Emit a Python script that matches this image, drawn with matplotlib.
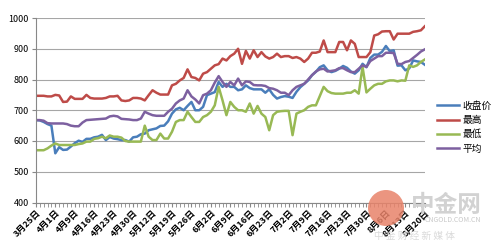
import matplotlib.pyplot as plt
from matplotlib.patches import Circle

plt.rcParams['font.family'] = ['Noto Sans CJK SC', 'DejaVu Sans']

# tick labels, one every 5 trading days
date_labels = ["3月25日", "4月1日", "4月9日", "4月16日", "4月23日", "4月30日", "5月12日",
               "5月19日", "5月26日", "6月2日", "6月9日", "6月16日", "6月23日", "7月2日",
               "7月9日", "7月16日", "7月23日", "7月30日", "8月6日", "8月13日", "8月20日"]

close = [668, 667, 662, 655, 650, 560, 580, 571, 572, 582, 593, 601, 597, 607, 607, 612, 614, 620, 603, 613,
         608, 606, 603, 603, 598, 612, 614, 622, 624, 635, 638, 641, 649, 650, 664, 689, 703, 708, 700, 714,
         727, 700, 700, 711, 749, 754, 759, 792, 776, 786, 776, 776, 765, 768, 781, 772, 768, 768, 768, 757,
         768, 750, 738, 743, 746, 744, 740, 760, 775, 786, 797, 814, 825, 840, 846, 830, 824, 828, 835, 844,
         838, 826, 819, 830, 851, 840, 870, 881, 881, 890, 909, 892, 895, 845, 846, 830, 836, 862, 859, 857,
         848]
high = [747, 747, 747, 745, 745, 750, 748, 727, 728, 745, 737, 737, 737, 750, 740, 738, 738, 738, 740, 745,
        745, 747, 732, 730, 732, 740, 740, 738, 732, 749, 765, 757, 751, 751, 751, 781, 786, 797, 805, 833,
        808, 805, 797, 819, 824, 835, 846, 850, 868, 862, 876, 884, 900, 851, 893, 868, 895, 873, 889, 875,
        868, 873, 884, 873, 876, 876, 870, 873, 868, 857, 868, 887, 887, 891, 927, 889, 889, 889, 922, 922,
        895, 927, 916, 873, 873, 873, 889, 943, 947, 956, 957, 957, 930, 949, 949, 949, 949, 955, 957, 960,
        973]
low = [570, 570, 570, 576, 585, 592, 587, 587, 587, 587, 587, 590, 592, 598, 598, 607, 609, 614, 609, 618,
       614, 614, 611, 600, 598, 598, 598, 598, 650, 614, 603, 603, 624, 608, 608, 630, 662, 668, 668, 695,
       678, 662, 662, 678, 684, 695, 716, 776, 732, 684, 727, 711, 700, 700, 695, 722, 689, 714, 689, 678,
       635, 684, 695, 697, 698, 698, 619, 689, 695, 700, 711, 716, 716, 746, 776, 762, 756, 754, 754, 754,
       757, 757, 765, 754, 841, 758, 770, 781, 786, 786, 794, 797, 797, 794, 797, 796, 846, 841, 846, 857,
       865]
avg = [668, 668, 666, 658, 657, 657, 657, 657, 655, 650, 648, 648, 660, 668, 669, 670, 671, 672, 673, 680,
       682, 680, 672, 671, 670, 668, 668, 673, 695, 689, 684, 682, 682, 682, 695, 705, 722, 732, 738, 765,
       745, 735, 722, 749, 754, 765, 790, 811, 792, 776, 792, 781, 803, 781, 794, 792, 782, 781, 781, 779,
       772, 770, 765, 757, 757, 749, 765, 776, 781, 786, 800, 814, 826, 833, 835, 826, 828, 830, 837, 837,
       830, 824, 824, 835, 846, 841, 860, 868, 876, 876, 887, 887, 886, 851, 850, 857, 860, 870, 880, 891,
       898]

series = [("收盘价", close, "#4a7ebb"), ("最高", high, "#be4b48"),
          ("最低", low, "#98b954"), ("平均", avg, "#7d60a0")]

fig = plt.figure(figsize=(4.98, 2.5), dpi=100)
ax = fig.add_axes([0.072, 0.19, 0.781, 0.738])

x = list(range(len(close)))
for name, vals, color in series:
    ax.plot(x, vals, color=color, lw=1.8, label=name)

ax.set_xlim(0, len(close) - 1)
ax.set_ylim(400, 1000)
ax.set_yticks(range(400, 1001, 100))
ax.grid(axis='y', color='#a6a6a6', lw=0.8)
ax.set_axisbelow(True)
for s in ['top', 'right']:
    ax.spines[s].set_visible(False)
ax.spines['left'].set_color('#888888')
ax.spines['bottom'].set_color('#888888')
ax.tick_params(axis='y', labelsize=6.5, length=3, color='#888888', pad=2)

ax.set_xticks(x, minor=True)
ax.set_xticks(range(0, len(close), 5))
ax.set_xticklabels(date_labels, rotation=45, ha='right', rotation_mode='anchor',
                   fontsize=6.5, fontweight='bold')
ax.tick_params(axis='x', which='both', length=3, color='#888888', pad=1)

ax.legend(loc='upper left', bbox_to_anchor=(1.01, 0.6), frameon=False, fontsize=7,
          handlelength=2.2, labelspacing=0.45, handletextpad=0.4)

# watermark (logo circle + text)
logo = Circle((3.86, 0.42), 0.18, transform=fig.dpi_scale_trans,
              facecolor='#e8836a', alpha=0.85, edgecolor='none', zorder=5)
fig.patches.append(logo)
fig.text(0.826, 0.18, "中金网", fontsize=17, color='#d2d2d2', fontweight='bold', va='center')
fig.text(0.853, 0.118, "CNGOLD.COM.CN", fontsize=5, color='#c8c8c8', va='center')
fig.text(0.75, 0.058, "中 金 财 经 新 媒 体", fontsize=7, color='#dadada', va='center')

fig.savefig("out.png", dpi=100)
